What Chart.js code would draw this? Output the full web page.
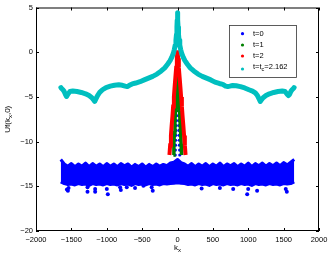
<!DOCTYPE html>
<html>
<head>
<meta charset="utf-8">
<script src="https://cdn.jsdelivr.net/npm/chart.js@4.4.0/dist/chart.umd.min.js"></script>
<style>
  html, body { margin: 0; padding: 0; background: #fff; }
  #wrap { width: 332px; height: 257px; }
</style>
</head>
<body>
<div id="wrap"><canvas id="chart"></canvas></div>
<script>
// legend labels ("_c" means subscript c)
var seriesLabels = ['t=0', 't=1', 't=2', 't=t_c=2.162'];
var seriesColors = ['rgb(0,0,255)', 'rgb(0,128,0)', 'rgb(255,0,0)', 'rgb(0,191,191)'];

var xTicks = [-2000, -1500, -1000, -500, 0, 500, 1000, 1500, 2000];
var yTicks = [-20, -15, -10, -5, 0, 5];

// t = 0 : noisy band (upper / lower edge), spike at kx=0, stray points
var bandKx = [-1650,-1600,-1550,-1500,-1450,-1400,-1350,-1300,-1250,-1200,-1150,-1100,-1050,-1000,-950,-900,-850,-800,-750,-700,-650,-600,-550,-500,-450,-400,-350,-300,-250,-200,-150,-100,-50,0,50,100,150,200,250,300,350,400,450,500,550,600,650,700,750,800,850,900,950,1000,1050,1100,1150,1200,1250,1300,1350,1400,1450,1500,1550,1600,1650];
var bandTop = [-12.0,-12.5,-12.75,-12.45,-12.8,-12.5,-12.75,-12.4,-12.8,-12.45,-12.75,-12.5,-12.8,-12.45,-12.75,-12.5,-12.8,-12.45,-12.7,-12.5,-12.85,-12.55,-12.8,-12.5,-12.85,-12.55,-12.8,-12.5,-12.75,-12.55,-12.7,-12.4,-12.3,-12.0,-12.35,-12.5,-12.75,-12.45,-12.8,-12.5,-12.75,-12.45,-12.8,-12.5,-12.75,-12.4,-12.8,-12.5,-12.7,-12.45,-12.8,-12.5,-12.75,-12.4,-12.8,-12.45,-12.7,-12.4,-12.75,-12.45,-12.7,-12.4,-12.7,-12.35,-12.6,-12.3,-12.0];
var bandBottom = [-14.5,-14.7,-14.8,-14.75,-14.85,-14.7,-14.8,-14.75,-14.9,-14.7,-14.8,-14.75,-14.85,-14.7,-14.8,-14.75,-14.85,-14.7,-14.8,-14.75,-14.9,-14.7,-14.8,-14.75,-14.85,-14.7,-14.8,-14.75,-14.85,-14.7,-14.75,-14.7,-14.65,-14.6,-14.65,-14.7,-14.8,-14.75,-14.85,-14.7,-14.8,-14.75,-14.9,-14.7,-14.8,-14.75,-14.85,-14.7,-14.8,-14.75,-14.85,-14.7,-14.8,-14.75,-14.9,-14.7,-14.8,-14.75,-14.85,-14.7,-14.8,-14.75,-14.85,-14.7,-14.75,-14.7,-14.5];
var spike0Kx = [-32,-30,-28,-26,-24,-22,-20,-18,-16,-14,-12,-10,-8,-6,-4,4,6,8,10,12,14,16,18,20,22,24,26,28,30,32];
var spike0Y = [-11.5,-10.95,-10.4,-9.85,-9.3,-8.75,-8.2,-7.65,-7.1,-6.55,-6.0,-5.45,-4.9,-4.35,-3.8,-3.8,-4.35,-4.9,-5.45,-6.0,-6.55,-7.1,-7.65,-8.2,-8.75,-9.3,-9.85,-10.4,-10.95,-11.5];
var strayKx = [-1563,-1549,-1540,-1272,-1272,-1164,-1164,-999,-985,-811,-801,-717,-600,-482,-365,-350,341,599,787,999,985,1125,1530,1545];
var strayY = [-15.35,-15.5,-15.2,-15.1,-15.6,-15.3,-15.6,-15.3,-15.9,-15.1,-15.4,-15.1,-15.2,-14.95,-15.1,-15.5,-15.25,-15.2,-15.3,-15.3,-15.9,-15.5,-15.3,-15.6];

// t = 1
var t1Kx = [-58,-51,-44,-36,-29,-22,-15,-7,0,7,15,22,29,36,44,51,58];
var t1Y = [-11.5,-10.25,-9.0,-7.75,-6.5,-5.25,-4.0,-2.75,-1.5,-2.75,-4.0,-5.25,-6.5,-7.75,-9.0,-10.25,-11.5];

// t = 2
var t2Kx = [-114,-104,-93,-83,-72,-62,-51,-41,-30,-19,-9,0,9,19,30,41,51,62,72,83,93,104,114];
var t2Y = [-11.5,-10.42,-9.33,-8.25,-7.17,-6.08,-5.0,-3.92,-2.83,-1.75,-0.67,0.2,-0.67,-1.75,-2.83,-3.92,-5.0,-6.08,-7.17,-8.25,-9.33,-10.42,-11.5];

// t = tc
var tcKx = [-1648,-1640,-1625,-1605,-1585,-1568,-1550,-1520,-1480,-1420,-1360,-1300,-1250,-1210,-1185,-1170,-1155,-1130,-1100,-1060,-1010,-950,-890,-830,-780,-740,-710,-680,-640,-590,-530,-470,-410,-350,-290,-230,-180,-140,-105,-80,-60,-45,-32,-22,-14,-8,-4,0,4,8,14,22,32,45,60,80,105,140,180,230,290,350,410,470,530,590,640,680,710,740,780,830,890,950,1010,1060,1100,1130,1155,1170,1185,1210,1250,1300,1360,1420,1480,1520,1550,1568,1585,1605,1625,1640,1648];
var tcY = [-3.95,-4.05,-4.15,-4.35,-4.7,-4.95,-4.7,-4.4,-4.35,-4.4,-4.5,-4.65,-4.85,-5.1,-5.35,-5.5,-5.25,-4.85,-4.5,-4.2,-3.95,-3.8,-3.7,-3.65,-3.7,-3.8,-3.85,-3.7,-3.55,-3.45,-3.3,-3.1,-2.9,-2.7,-2.45,-2.1,-1.75,-1.35,-0.95,-0.55,-0.15,0.3,0.8,1.35,2.0,2.8,3.6,4.4,3.6,2.8,2.0,1.35,0.8,0.3,-0.15,-0.55,-0.95,-1.35,-1.75,-2.1,-2.45,-2.7,-2.9,-3.1,-3.35,-3.5,-3.6,-3.8,-3.85,-3.8,-3.72,-3.75,-3.85,-4.0,-4.2,-4.35,-4.55,-4.85,-5.25,-5.5,-5.35,-5.1,-4.85,-4.65,-4.5,-4.4,-4.35,-4.4,-4.7,-4.85,-4.7,-4.35,-4.15,-4.05,-3.95];

function pts(xs, ys) {
  return xs.map(function (x, i) { return { x: x, y: ys[i] }; });
}
function fmt(v) {
  return v < 0 ? '\u2212' + Math.abs(v) : String(v);
}

// draws "base_sub" text with a lowered small subscript
function subText(ctx, str, x, y, size, align) {
  var parts = str.split(/_(\w)/);
  var w = 0, i;
  for (i = 0; i < parts.length; i++) {
    ctx.font = (i % 2 ? size * 0.75 : size) + 'px "Liberation Sans", Arial';
    w += ctx.measureText(parts[i]).width;
  }
  var cx = align === 'center' ? x - w / 2 : x;
  ctx.textAlign = 'left';
  ctx.textBaseline = 'middle';
  for (i = 0; i < parts.length; i++) {
    ctx.font = (i % 2 ? size * 0.75 : size) + 'px "Liberation Sans", Arial';
    ctx.fillText(parts[i], cx, i % 2 ? y + size * 0.35 : y);
    cx += ctx.measureText(parts[i]).width;
  }
}

var matlabLook = {
  id: 'matlabLook',
  afterDraw: function (chart) {
    var ctx = chart.ctx, a = chart.chartArea;
    var xs = chart.scales.x, ys = chart.scales.y;
    ctx.save();
    ctx.strokeStyle = '#000';
    ctx.lineWidth = 1;
    ctx.strokeRect(a.left + 0.5, a.top + 0.5, a.right - a.left - 1, a.bottom - a.top - 1);
    ctx.beginPath();
    xTicks.forEach(function (v) {
      var p = Math.round(xs.getPixelForValue(v)) + 0.5;
      ctx.moveTo(p, a.bottom); ctx.lineTo(p, a.bottom - 3);
      ctx.moveTo(p, a.top); ctx.lineTo(p, a.top + 3);
    });
    yTicks.forEach(function (v) {
      var p = Math.round(ys.getPixelForValue(v)) + 0.5;
      ctx.moveTo(a.left, p); ctx.lineTo(a.left + 3, p);
      ctx.moveTo(a.right, p); ctx.lineTo(a.right - 3, p);
    });
    ctx.stroke();

    // axis titles
    ctx.fillStyle = '#000';
    subText(ctx, 'k_x', xs.getPixelForValue(0), 248, 8, 'center');
    ctx.save();
    ctx.translate(8, (a.top + a.bottom) / 2);
    ctx.rotate(-Math.PI / 2);
    subText(ctx, 'Uf(k_x,0)', 0, 0, 8, 'center');
    ctx.restore();

    // legend box
    var bx = 229, by = 25, bw = 67, bh = 52;
    ctx.fillStyle = '#fff';
    ctx.fillRect(bx, by, bw, bh);
    ctx.strokeStyle = '#333';
    ctx.lineWidth = 0.8;
    ctx.strokeRect(bx + 0.5, by + 0.5, bw, bh);
    var rows = [33.7, 45, 56, 67];
    seriesLabels.forEach(function (lab, i) {
      ctx.fillStyle = seriesColors[i];
      ctx.beginPath();
      ctx.arc(242.5, i === 3 ? rows[i] + 2 : rows[i], 1.6, 0, Math.PI * 2);
      ctx.fill();
      ctx.fillStyle = '#000';
      subText(ctx, lab, 253, rows[i], 7.5, 'left');
    });
    ctx.restore();
  }
};

var ctx = document.getElementById('chart').getContext('2d');
new Chart(ctx, {
  type: 'scatter',
  data: {
    datasets: [
      { data: pts(tcKx, tcY), showLine: true, borderColor: seriesColors[3], borderWidth: 5,
        borderCapStyle: 'round', borderJoinStyle: 'round', pointRadius: 0 },
      { data: pts(t2Kx, t2Y), showLine: true, borderColor: seriesColors[2], borderWidth: 4,
        borderJoinStyle: 'miter', pointRadius: 0 },
      { data: pts(t1Kx, t1Y), showLine: true, borderColor: seriesColors[1], borderWidth: 3.5,
        borderJoinStyle: 'miter', pointRadius: 0 },
      { data: pts(spike0Kx, spike0Y), backgroundColor: seriesColors[0], borderWidth: 0, pointRadius: 1.6 },
      { data: pts(strayKx, strayY), backgroundColor: seriesColors[0], borderWidth: 0, pointRadius: 2 },
      { data: pts(bandKx, bandTop), showLine: true, borderColor: seriesColors[0], borderWidth: 3,
        borderJoinStyle: 'round', backgroundColor: seriesColors[0], fill: '+1', pointRadius: 0 },
      { data: pts(bandKx, bandBottom), showLine: true, borderColor: seriesColors[0], borderWidth: 3,
        borderJoinStyle: 'round', pointRadius: 0 }
    ]
  },
  options: {
    responsive: true,
    maintainAspectRatio: false,
    animation: false,
    layout: { padding: { top: 7, right: 13, left: 0, bottom: 0 } },
    plugins: { legend: { display: false }, tooltip: { enabled: false } },
    scales: {
      x: {
        min: -2000, max: 2000,
        grid: { display: false, drawTicks: false },
        border: { display: false },
        afterFit: function (s) { s.height = 26; },
        afterBuildTicks: function (s) { s.ticks = xTicks.map(function (v) { return { value: v }; }); },
        ticks: { color: '#000', padding: 4, maxRotation: 0, autoSkip: false,
                 font: { family: 'Liberation Sans', size: 7.5 }, callback: fmt }
      },
      y: {
        min: -20, max: 5,
        grid: { display: false, drawTicks: false },
        border: { display: false },
        afterFit: function (s) { s.width = 36; },
        afterBuildTicks: function (s) { s.ticks = yTicks.map(function (v) { return { value: v }; }); },
        ticks: { color: '#000', padding: 3, autoSkip: false,
                 font: { family: 'Liberation Sans', size: 7.5 }, callback: fmt }
      }
    }
  },
  plugins: [matlabLook]
});
</script>
</body>
</html>
